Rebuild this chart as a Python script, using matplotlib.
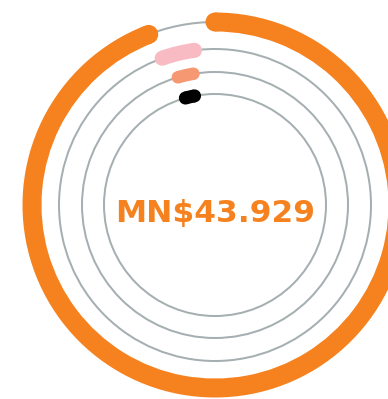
import numpy as np
import matplotlib
matplotlib.use("Agg")
import matplotlib.pyplot as plt
from matplotlib.patches import Wedge, Circle

# ring data: arcs as fractions of a full turn, clockwise from 12 o'clock
ring_names = ["total", "segment_a", "segment_b", "segment_c"]
ring_start = [0.0, 0.945, 0.955, 0.957]
ring_end = [0.941, 0.979, 0.974, 0.9705]
ring_colors = ["#F5821F", "#F9BBC3", "#F69872", "#000000"]
total_label = "MN$43.929"

# layout in pixels (y measured upward)
W, H = 388, 399
cx, cy = 215, H - 205
radii = [183, 156, 133, 111]
widths_px = [19, 15, 12.5, 13]
track_color = "#A5AFB1"

PT = 72 / 100  # pixels -> points at dpi 100

fig = plt.figure(figsize=(W / 100, H / 100), dpi=100)
ax = fig.add_axes([0, 0, 1, 1])
ax.set_xlim(0, W)
ax.set_ylim(0, H)
ax.axis("off")

# background tracks
for r in radii:
    ax.add_patch(Circle((cx, cy), r, fill=False, ec=track_color,
                        lw=2 * PT, zorder=1, clip_on=False))


def clock_pos(frac, r):
    a = 2 * np.pi * frac
    return cx + r * np.sin(a), cy + r * np.cos(a)


# arcs as filled wedges with round end caps
for r, w, s, e, c in zip(radii, widths_px, ring_start, ring_end, ring_colors):
    ax.add_patch(Wedge((cx, cy), r + w / 2, 90 - 360 * e, 90 - 360 * s,
                       width=w, fc=c, ec="none", zorder=2, clip_on=False))
    for f in (s, e):
        ax.add_patch(Circle(clock_pos(f, r), w / 2, fc=c, ec="none",
                            zorder=2, clip_on=False))

ax.text(cx + 0.5, cy - 17, total_label, color="#F5821F", fontsize=22.5,
        fontweight="bold", family="DejaVu Sans", ha="center",
        va="baseline", zorder=3)

fig.savefig("out.png", dpi=100)
